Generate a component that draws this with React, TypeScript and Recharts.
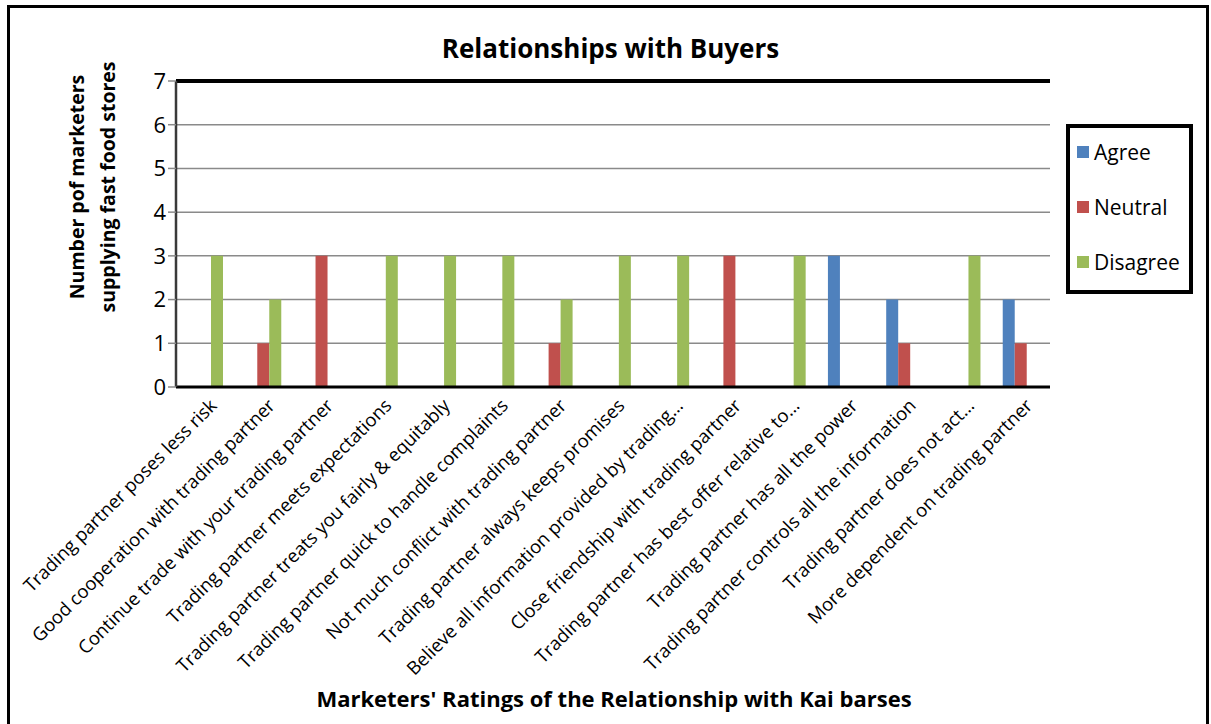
import {
  BarChart,
  Bar,
  XAxis,
  YAxis,
  CartesianGrid,
  ReferenceLine,
} from "recharts";

const categories = [
  "Trading partner poses less risk",
  "Good cooperation with trading partner",
  "Continue trade with your trading partner",
  "Trading partner meets expectations",
  "Trading partner treats you fairly & equitably",
  "Trading partner quick to handle complaints",
  "Not much conflict with trading partner",
  "Trading partner always keeps promises",
  "Believe all information provided by trading…",
  "Close friendship with trading partner",
  "Trading partner has best offer relative to…",
  "Trading partner has all the power",
  "Trading partner controls all the information",
  "Trading partner does not act…",
  "More dependent on trading partner",
];

const agree = [0, 0, 0, 0, 0, 0, 0, 0, 0, 0, 0, 3, 2, 0, 2];
const neutral = [0, 1, 3, 0, 0, 0, 1, 0, 0, 3, 0, 0, 1, 0, 1];
const disagree = [3, 2, 0, 3, 3, 3, 2, 3, 3, 0, 3, 0, 0, 3, 0];

const yTicks = [0, 1, 2, 3, 4, 5, 6, 7];
const boundaryTicks = [0, 1, 2, 3, 4, 5, 6, 7, 8, 9, 10, 11, 12, 13, 14, 15];

const series = [
  { key: "agree", name: "Agree", color: "#4F81BD" },
  { key: "neutral", name: "Neutral", color: "#C0504D" },
  { key: "disagree", name: "Disagree", color: "#9BBB59" },
];

const data = categories.map((name, i) => ({
  name,
  agree: agree[i],
  neutral: neutral[i],
  disagree: disagree[i],
}));

const FONT = "'Open Sans', sans-serif";

function XTick({ x, y, payload }: any) {
  return (
    <g transform={`translate(${x + 3},${y + 2})`}>
      <text
        transform="rotate(-45)"
        textAnchor="end"
        dy="0.75em"
        fontFamily={FONT}
        fontSize={18.5}
        fill="#000"
      >
        {payload.value}
      </text>
    </g>
  );
}

function YLabel() {
  const cy = 187;
  return (
    <g fontFamily={FONT} fontWeight="bold" fontSize={19.5} fill="#000">
      <text x={76} y={cy} transform={`rotate(-90 76 ${cy})`} textAnchor="middle" dominantBaseline="central">
        Number pof marketers
      </text>
      <text x={107} y={cy} transform={`rotate(-90 107 ${cy})`} textAnchor="middle" dominantBaseline="central">
        supplying fast food stores
      </text>
    </g>
  );
}

export default function App() {
  return (
    <div
      style={{
        position: "absolute",
        left: 0,
        top: 0,
        width: 1211,
        height: 724,
        background: "#fff",
        overflow: "hidden",
      }}
    >
      {/* outer frame */}
      <div
        style={{
          position: "absolute",
          left: 7,
          top: 5,
          width: 1202,
          height: 760,
          border: "3px solid #000",
          boxSizing: "border-box",
        }}
      />

      {/* title */}
      <div
        style={{
          position: "absolute",
          left: 0,
          top: 31,
          width: 1221,
          textAlign: "center",
          fontFamily: FONT,
          fontWeight: "bold",
          fontSize: 26,
          lineHeight: "34px",
        }}
      >
        Relationships with Buyers
      </div>

      <div style={{ position: "absolute", left: 0, top: 0 }}>
        <BarChart
          width={1211}
          height={724}
          data={data}
          barSize={12}
          barGap={0}
          margin={{ top: 81, right: 161, left: 116, bottom: 37 }}
        >
          <CartesianGrid vertical={false} stroke="#8a8a8a" strokeWidth={1.5} />

          {/* tick marks between categories */}
          <XAxis
            xAxisId="t"
            type="number"
            domain={[0, 15]}
            ticks={boundaryTicks}
            allowDataOverflow
            tick={false}
            axisLine={false}
            tickLine={{ stroke: "#8a8a8a", strokeWidth: 1.5 }}
            tickSize={7}
            height={0}
          />
          <XAxis
            dataKey="name"
            interval={0}
            tick={<XTick />}
            tickLine={false}
            axisLine={{ stroke: "#000", strokeWidth: 3 }}
            height={300}
          />
          <YAxis
            domain={[0, 7]}
            ticks={yTicks}
            interval={0}
            width={60}
            tick={{ fill: "#000", fontSize: 22, fontFamily: FONT }}
            tickLine={{ stroke: "#8a8a8a", strokeWidth: 1.5 }}
            tickSize={8}
            axisLine={{ stroke: "#3a3a3a", strokeWidth: 2.5 }}
            label={{ content: <YLabel /> }}
          />
          <YAxis
            yAxisId="r"
            orientation="right"
            domain={[0, 7]}
            tick={false}
            tickLine={false}
            axisLine={{ stroke: "#000", strokeWidth: 4 }}
            width={0}
          />
          <ReferenceLine y={7} stroke="#000" strokeWidth={4} />

          {series.map((s) => (
            <Bar
              key={s.key}
              dataKey={s.key}
              name={s.name}
              fill={s.color}
              isAnimationActive={false}
            />
          ))}
        </BarChart>
      </div>

      {/* x axis title */}
      <div
        style={{
          position: "absolute",
          left: 0,
          top: 683,
          width: 1228,
          textAlign: "center",
          fontFamily: FONT,
          fontWeight: "bold",
          fontSize: 22,
          lineHeight: "30px",
        }}
      >
        Marketers' Ratings of the Relationship with Kai barses
      </div>

      {/* legend */}
      <div
        style={{
          position: "absolute",
          left: 1066,
          top: 124,
          width: 127,
          height: 170,
          border: "4px solid #000",
          boxSizing: "border-box",
          fontFamily: FONT,
          fontSize: 21,
        }}
      >
        {series.map((s, i) => (
          <div
            key={s.key}
            style={{
              position: "absolute",
              left: 7,
              top: 10 + i * 55,
              display: "flex",
              alignItems: "center",
              whiteSpace: "nowrap",
              lineHeight: "28px",
            }}
          >
            <span
              style={{
                display: "inline-block",
                width: 12,
                height: 12,
                background: s.color,
                marginRight: 5,
              }}
            />
            {s.name}
          </div>
        ))}
      </div>
    </div>
  );
}
